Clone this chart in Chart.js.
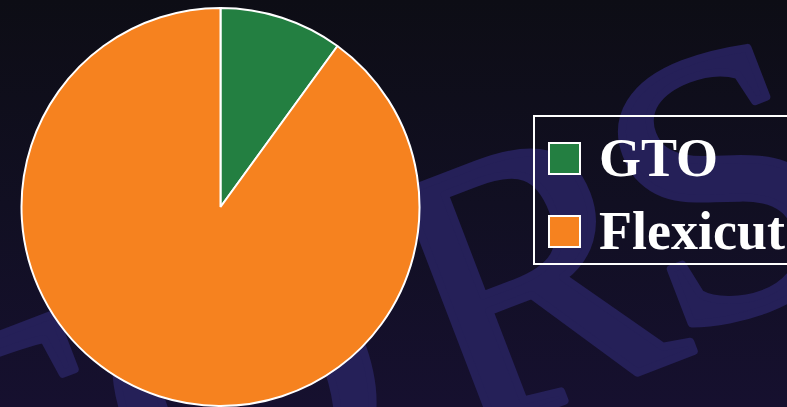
<!DOCTYPE html>
<html>
<head>
<meta charset="utf-8">
<script src="https://cdn.jsdelivr.net/npm/chart.js@4"></script>
<style>
  html, body { margin: 0; padding: 0; }
  body {
    width: 787px; height: 407px; overflow: hidden; position: relative;
    background: linear-gradient(to bottom, #0d0d15 0%, #110f22 50%, #16102f 100%);
  }
  #mark { position: absolute; left: 0; top: 0; }
  #pieBox { position: absolute; left: 0; top: 0; width: 441px; height: 407px; }
  #legend {
    position: absolute; left: 533px; top: 115px; width: 300px; height: 150px;
    box-sizing: border-box; border: 2px solid #fff;
  }
  .item {
    position: absolute; left: 13px; height: 54px;
    display: flex; align-items: center; white-space: nowrap;
    font: bold 54px "Liberation Serif", "Times New Roman", serif; line-height: 54px; color: #fff;
  }
  .swatch { width: 29px; height: 29px; border: 2px solid #fff; margin-right: 18px; }
</style>
</head>
<body>
<svg id="mark" width="787" height="407">
  <g transform="translate(480 431) rotate(-21)">
    <text x="-585 -342 -28 210" y="-10 -2 2 -15" fill="#252058" stroke="#252058" stroke-width="8"
          stroke-linejoin="round" font-family="Liberation Serif" font-size="385">TORS</text>
  </g>
</svg>
<div id="pieBox"><canvas id="pie"></canvas></div>
<div id="legend"></div>
<script>
var labels = ['GTO', 'Flexicut'];
var shares = [10, 90];
var colors = ['#237f41', '#f6821f'];

var chart = new Chart(document.getElementById('pie'), {
    type: 'pie',
    data: {
        labels: labels,
        datasets: [{
            data: shares,
            backgroundColor: colors,
            borderColor: '#ffffff',
            borderWidth: 2
        }]
    },
    options: {
        responsive: true,
        maintainAspectRatio: false,
        animation: false,
        layout: { padding: { top: 7 } },
        plugins: {
            legend: { display: false },
            tooltip: { enabled: false }
        }
    }
});

// legend entries come from the pie's own label generator
var items = chart.options.plugins.legend.labels.generateLabels(chart);
var legend = document.getElementById('legend');
items.forEach(function (it, i) {
    var row = document.createElement('div');
    row.className = 'item';
    row.style.top = (14 + i * 73) + 'px';
    var sw = document.createElement('span');
    sw.className = 'swatch';
    sw.style.background = it.fillStyle;
    row.appendChild(sw);
    row.appendChild(document.createTextNode(it.text));
    legend.appendChild(row);
});
</script>
</body>
</html>
